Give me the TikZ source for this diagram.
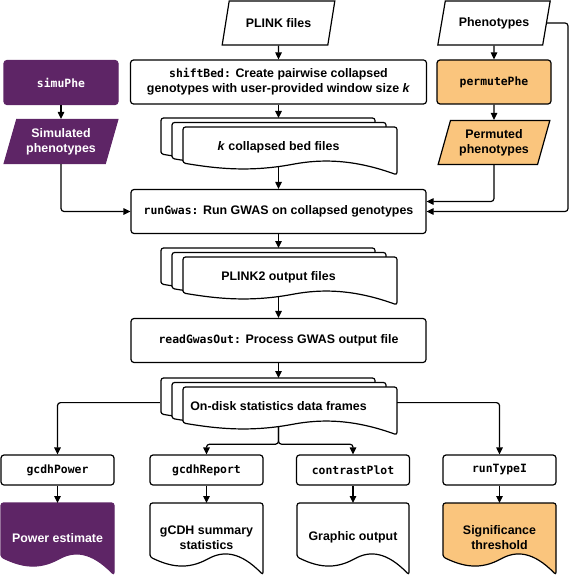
\documentclass[tikz,border=0pt]{standalone}
\usepackage{fontspec}
\setmainfont{Liberation Sans}
\setmonofont{DejaVu Sans Mono}
\usetikzlibrary{shapes.geometric,arrows.meta}
\definecolor{simu}{HTML}{5E2566}
\definecolor{perm}{HTML}{FAC57D}
\newcommand{\rfun}[1]{{\ttfamily\fontsize{11.4}{15}\selectfont #1}}
% page with a wavy foot: left, top, width, side height, style
\newcommand{\wavepage}[5]{%
	\draw[#5] (#1,#2+#4) -- (#1,#2) -- (#1+#3,#2) -- (#1+#3,#2+1.33*#4)
		.. controls (#1+0.8*#3,#2+0.9*#4) and (#1+0.65*#3,#2+0.88*#4) .. (#1+0.5*#3,#2+1.05*#4)
		.. controls (#1+0.3*#3,#2+1.25*#4) and (#1+0.15*#3,#2+1.15*#4) .. (#1,#2+#4) -- cycle;}
% three pages, the front one at left, top
\newcommand{\pagestack}[2]{%
	\foreach \k in {2,1,0}{\wavepage{#1-11*\k}{#2-4.5*\k}{214}{36}{page}}}
\begin{document}
\begin{tikzpicture}[x=1pt,y=-1pt,line width=1.2pt,>={Triangle[length=7pt,width=6.5pt]},
		font=\bfseries\fontsize{12.4}{15}\selectfont,
		box/.style={draw,fill=white,rounded corners=3pt,minimum height=44pt,align=center},
		io/.style={draw,fill=white,trapezium,trapezium left angle=72,trapezium right angle=108,
			trapezium stretches=true,minimum width=113pt,minimum height=44pt,align=center},
		page/.style={draw,fill=white,rounded corners=2.5pt},
		stack/.style={anchor=north,minimum width=236pt,minimum height=48pt,inner sep=0pt,
			text height=15pt,text depth=0pt},
		doc/.style={anchor=north,minimum width=113pt,minimum height=68pt,align=center},
		simu/.style={fill=simu,draw=simu,text=white},
		perm/.style={fill=perm},
		link/.style={->,rounded corners=3pt}]
	\useasboundingbox (0,0) rectangle (568,575);
	\pagestack{183}{127}
	\pagestack{183}{257}
	\pagestack{183}{387}
	\wavepage{1}{503}{113}{54}{page,simu}
	\wavepage{150}{503}{113}{54}{page}
	\wavepage{297}{503}{112}{54}{page}
	\wavepage{443}{503}{113}{54}{page,perm}

	\node[io] (plink) at (278.5,23) {PLINK files};
	\node[io] (pheno) at (494,23) {Phenotypes};
	\node[box,simu,minimum width=114pt] (simuphe) at (61,82.5) {\rfun{simuPhe}};
	\node[box,minimum width=296pt] (shiftbed) at (278.5,82) {\rfun{shiftBed:} Create pairwise collapsed\\genotypes with user-provided window size \textit{k}};
	\node[box,perm,minimum width=114pt] (permphe) at (494,82) {\rfun{permutePhe}};
	\node[io,simu,minimum width=114pt] (simpheno) at (61,141.5) {Simulated\\phenotypes};
	\node[io,perm,minimum width=112pt] (permpheno) at (494,142.5) {Permuted\\phenotypes};
	\node[stack] (kbed) at (278.5,118) {\textit{k} collapsed bed files};
	\node[box,minimum width=295pt] (rungwas) at (278.5,211.5) {\rfun{runGwas:} Run GWAS on collapsed genotypes};
	\node[stack] (plinktwo) at (278.5,248) {PLINK2 output files};
	\node[box,minimum width=295pt] (readgwas) at (278.5,340.5) {\rfun{readGwasOut:} Process GWAS output file};
	\node[stack] (ondisk) at (278.5,378) {On-disk statistics data frames};
	\foreach \n/\x/\f in {gcdhpower/57.5/gcdhPower,gcdhreport/206.5/gcdhReport,contrast/353/contrastPlot,typei/499.5/runTypeI}
		\node[box,minimum width=113pt,minimum height=30pt] (\n) at (\x,470) {\rfun{\f}};
	\node[doc,text=white] (power) at (57.5,503) {Power estimate};
	\node[doc] (summary) at (206.5,503) {gCDH summary\\statistics};
	\node[doc] (graphic) at (353,503) {Graphic output};
	\node[doc] (signif) at (499.5,503) {Significance\\threshold};

	\draw[link] (plink) -- (shiftbed);
	\draw[link] (shiftbed) -- (kbed);
	\draw[link] (kbed) -- (rungwas);
	\draw[link] (simuphe) -- (simpheno);
	\draw[link] (simpheno) |- (rungwas);
	\draw[link] (pheno) -- (permphe);
	\draw[link] (permphe) -- (permpheno);
	\draw[link] (permpheno) |- ([yshift=10pt]rungwas.east);
	\draw[link] (pheno.east) -- ++(21,0) |- (rungwas.east);
	\draw[link] (rungwas) -- (plinktwo);
	\draw[link] (plinktwo) -- (readgwas);
	\draw[link] (readgwas) -- (ondisk);
	\draw[link] (ondisk.west) -| (gcdhpower);
	\draw[link] (ondisk.east) -| (typei);
	\draw[link] (ondisk.south) -- ++(0,17) -| (gcdhreport);
	\draw[link] (ondisk.south) -- ++(0,17) -| (contrast);
	\foreach \a/\b in {gcdhpower/power,gcdhreport/summary,contrast/graphic,typei/signif}
		\draw[link] (\a) -- (\b);
\end{tikzpicture}
\end{document}
